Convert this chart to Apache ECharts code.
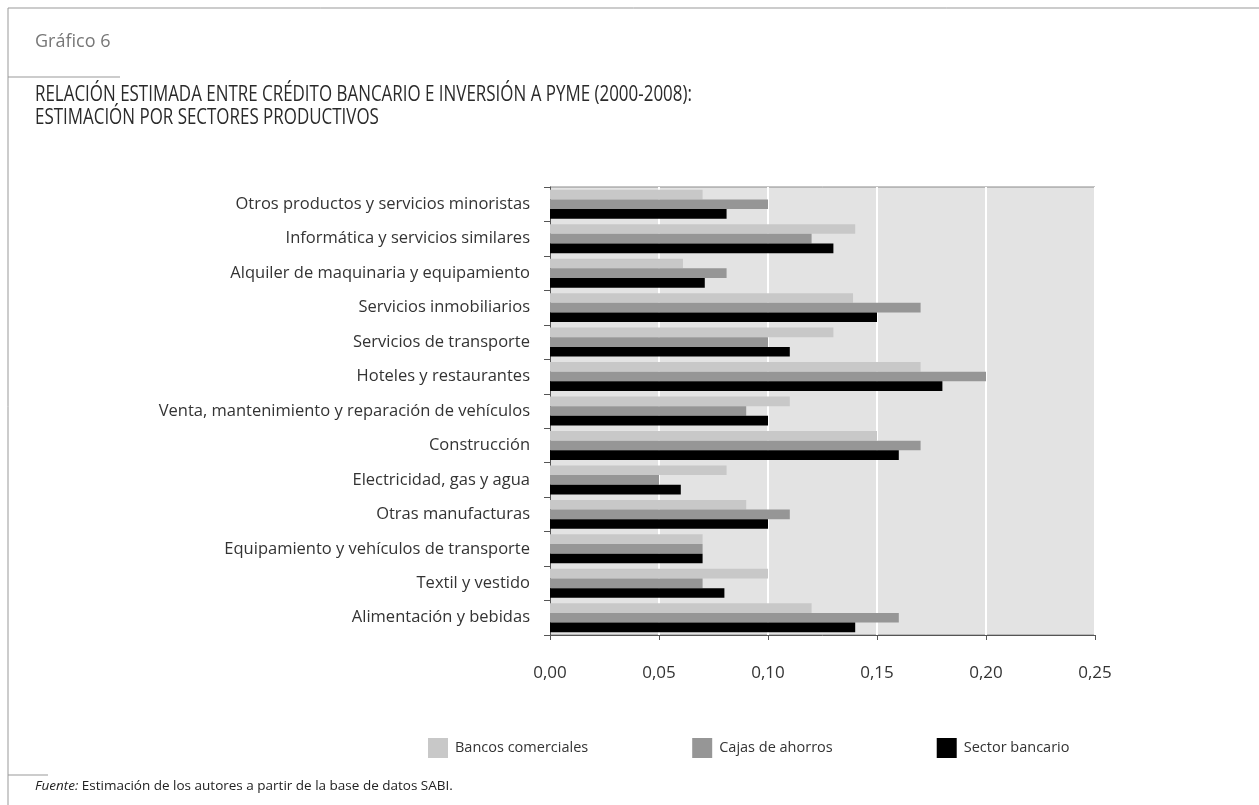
<!DOCTYPE html>
<html>
<head>
<meta charset="utf-8">
<script src="https://cdn.jsdelivr.net/npm/echarts@6/dist/echarts.min.js"></script>
<style>
  html, body { margin: 0; padding: 0; background: #fff; }
  #main { width: 1259px; height: 805px; }
</style>
</head>
<body>
<div id="main"></div>
<script>
// categories listed top to bottom, as in the figure
const sectores = [
  'Otros productos y servicios minoristas',
  'Informática y servicios similares',
  'Alquiler de maquinaria y equipamiento',
  'Servicios inmobiliarios',
  'Servicios de transporte',
  'Hoteles y restaurantes',
  'Venta, mantenimiento y reparación de vehículos',
  'Construcción',
  'Electricidad, gas y agua',
  'Otras manufacturas',
  'Equipamiento y vehículos de transporte',
  'Textil y vestido',
  'Alimentación y bebidas'
];
const bancos = [0.07, 0.14, 0.061, 0.139, 0.13, 0.17, 0.11, 0.15, 0.081, 0.09, 0.07, 0.10, 0.12];
const cajas = [0.10, 0.12, 0.081, 0.17, 0.10, 0.20, 0.09, 0.17, 0.05, 0.11, 0.07, 0.07, 0.16];
const sector = [0.081, 0.13, 0.071, 0.15, 0.11, 0.18, 0.10, 0.16, 0.06, 0.10, 0.07, 0.08, 0.14];
const seriesNames = ['Bancos comerciales', 'Cajas de ahorros', 'Sector bancario'];

const txtFont = '"Open Sans", "Noto Sans", sans-serif';

const chart = echarts.init(document.getElementById('main'));

const option = {
  backgroundColor: '#fff',
  animation: false,
  title: [
    {
      text: 'Gráfico 6',
      left: 30, top: 28,
      textStyle: { fontFamily: txtFont, fontSize: 18, fontWeight: 'normal', color: '#777' }
    },
    {
      text: '{i|Fuente:} Estimación de los autores a partir de la base de datos SABI.',
      left: 30, top: 774,
      textStyle: {
        fontFamily: txtFont, fontSize: 13.5, fontWeight: 'normal', color: '#222',
        rich: { i: { fontFamily: txtFont, fontSize: 13.5, fontStyle: 'italic', color: '#222' } }
      }
    }
  ],
  graphic: [
    { type: 'line', shape: { x1: 8, y1: 8, x2: 1259, y2: 8 }, style: { stroke: '#999', lineWidth: 1 } },
    { type: 'line', shape: { x1: 8, y1: 8, x2: 8, y2: 805 }, style: { stroke: '#999', lineWidth: 1 } },
    { type: 'line', shape: { x1: 8, y1: 77, x2: 120, y2: 77 }, style: { stroke: '#999', lineWidth: 1 } },
    { type: 'line', shape: { x1: 8, y1: 775, x2: 48, y2: 775 }, style: { stroke: '#999', lineWidth: 1 } },
    {
      type: 'text', x: 35, y: 83, scaleX: 0.77,
      style: {
        text: 'RELACIÓN ESTIMADA ENTRE CRÉDITO BANCARIO E INVERSIÓN A PYME (2000-2008):\nESTIMACIÓN POR SECTORES PRODUCTIVOS',
        font: '22px "Open Sans", sans-serif',
        lineHeight: 23,
        fill: '#2a2a2a'
      }
    }
  ],
  legend: {
    data: seriesNames,
    left: 423,
    top: 733,
    itemWidth: 20,
    itemHeight: 20,
    itemGap: 104,
    icon: 'rect',
    textStyle: { fontFamily: txtFont, fontSize: 14.5, color: '#333', padding: [0, 0, 0, 2] }
  },
  grid: {
    left: 550, right: 164, top: 187, bottom: 170,
    show: true,
    backgroundColor: '#e3e3e3',
    borderColor: '#8a8a8a',
    borderWidth: 1
  },
  xAxis: {
    type: 'value',
    min: 0, max: 0.25, interval: 0.05,
    axisLine: { show: true, lineStyle: { color: '#555', width: 1 } },
    axisTick: { show: true, length: 5, lineStyle: { color: '#555' } },
    splitLine: { show: true, lineStyle: { color: '#fff', width: 2 } },
    axisLabel: {
      margin: 30,
      fontFamily: txtFont, fontSize: 17, color: '#333',
      formatter: v => v.toFixed(2).replace('.', ',')
    }
  },
  yAxis: {
    type: 'category',
    inverse: true,
    data: sectores,
    axisLine: { show: true, lineStyle: { color: '#555', width: 1 } },
    axisTick: { show: true, length: 6, lineStyle: { color: '#555' } },
    axisLabel: { margin: 20, fontFamily: txtFont, fontSize: 16.5, color: '#333' }
  },
  series: [
    { name: seriesNames[0], type: 'bar', data: bancos, barGap: '0%', barCategoryGap: '16%', itemStyle: { color: '#c8c8c8' } },
    { name: seriesNames[1], type: 'bar', data: cajas, barGap: '0%', barCategoryGap: '16%', itemStyle: { color: '#969696' } },
    { name: seriesNames[2], type: 'bar', data: sector, barGap: '0%', barCategoryGap: '16%', itemStyle: { color: '#000' } }
  ]
};

chart.setOption(option);
</script>
</body>
</html>
